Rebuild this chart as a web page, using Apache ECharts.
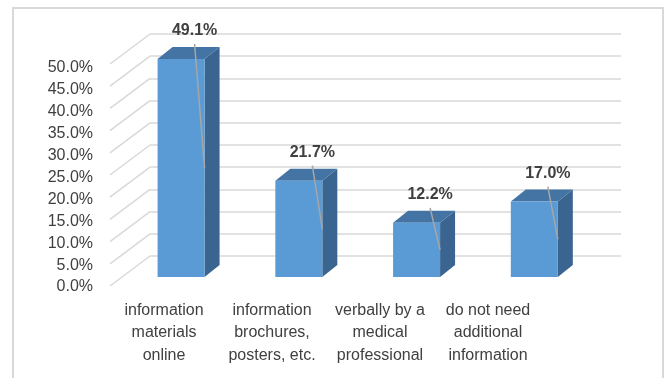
<!DOCTYPE html>
<html>
<head>
<meta charset="utf-8">
<script src="https://cdn.jsdelivr.net/npm/echarts@6/dist/echarts.min.js"></script>
<style>
  html, body { margin: 0; padding: 0; background: #ffffff; }
  #chart { width: 667px; height: 378px; }
</style>
</head>
<body>
<div id="chart"></div>
<script>
// Where respondents would like to get information (share of answers, %)
const categories = [
  'information\nmaterials\nonline',
  'information\nbrochures,\nposters, etc.',
  'verbally by a\nmedical\nprofessional',
  'do not need\nadditional\ninformation'
];
const shares = [49.1, 21.7, 12.2, 17.0];

// Value axis: 0 % to 50 % in steps of 5 %
const axisMin = 0;
const axisMax = 50;
const axisStep = 5;
const wallTicks = [0, 5, 10, 15, 20, 25, 30, 35, 40, 45, 50];

// Oblique 3D look: floor depth, bar placement and bar depth (px)
const FLOOR_DX = -40, FLOOR_DY = 30;   // back wall -> front edge
const FRONT_DX = -27.8, FRONT_DY = 21; // back wall -> bar front face
const BAR_W = 47;
const DEPTH_DX = 15, DEPTH_DY = -12;   // bar front face -> bar back face

const FONT = '"Liberation Sans", Arial, sans-serif';
const TEXT = '#404040';
const GRID_LINE = '#d9d9d9';

function pct(v) { return v.toFixed(1) + '%'; }

function renderBar(params, api) {
  const idx = api.value(0);
  const v = api.value(1);
  const top = api.coord([idx, v]);
  const base = api.coord([idx, 0]);
  const cx = top[0] + FRONT_DX;
  const yTop = top[1] + FRONT_DY;
  const yBot = base[1] + FRONT_DY;
  const x0 = cx - BAR_W / 2, x1 = cx + BAR_W / 2;
  const labelX = x1 - 10;
  const labelY = yTop - 28;
  return {
    type: 'group',
    children: [
      {
        type: 'polygon',
        shape: { points: [[x1, yTop], [x1 + DEPTH_DX, yTop + DEPTH_DY], [x1 + DEPTH_DX, yBot + DEPTH_DY], [x1, yBot]] },
        style: { fill: '#3a6591' }
      },
      {
        type: 'polygon',
        shape: { points: [[x0, yTop], [x1, yTop], [x1 + DEPTH_DX, yTop + DEPTH_DY], [x0 + DEPTH_DX, yTop + DEPTH_DY]] },
        style: { fill: '#4474a4' }
      },
      {
        type: 'rect',
        shape: { x: x0, y: yTop, width: BAR_W, height: yBot - yTop },
        style: { fill: '#5b9bd5' }
      },
      {
        type: 'line',
        shape: { x1: labelX, y1: labelY + 13, x2: x1, y2: (yTop + yBot) / 2 },
        style: { stroke: '#a6a6a6', lineWidth: 1.5 }
      },
      {
        type: 'text',
        x: labelX,
        y: labelY,
        style: {
          text: pct(v),
          fill: TEXT,
          font: 'bold 16px ' + FONT,
          align: 'center',
          verticalAlign: 'middle'
        }
      }
    ]
  };
}

function renderWallLine(params, api) {
  const y = api.coord([0, api.value(1)])[1];
  const x = params.coordSys.x;
  return {
    type: 'line',
    shape: { x1: x + FLOOR_DX, y1: y + FLOOR_DY, x2: x, y2: y },
    style: { stroke: GRID_LINE, lineWidth: 1.5 }
  };
}

const chart = echarts.init(document.getElementById('chart'), null, { renderer: 'canvas' });

chart.setOption({
  backgroundColor: '#ffffff',
  animation: false,
  graphic: [{
    type: 'rect',
    shape: { x: 13, y: 8, width: 650, height: 400 },
    style: { fill: 'none', stroke: GRID_LINE, lineWidth: 2 },
    silent: true
  }],
  grid: [
    // back wall
    { left: 150, right: 46, top: 34, bottom: 122 },
    // front edge (axis labels)
    { left: 110, right: 125, top: 68, bottom: 91 }
  ],
  xAxis: [
    { gridIndex: 0, type: 'category', data: categories, show: false },
    {
      gridIndex: 1, type: 'category', data: categories,
      axisLine: { show: false }, axisTick: { show: false },
      axisLabel: {
        interval: 0, margin: 12, color: TEXT,
        fontFamily: FONT, fontSize: 16, lineHeight: 22.7, align: 'center'
      }
    }
  ],
  yAxis: [
    {
      gridIndex: 0, type: 'value', min: axisMin, max: axisMax, interval: axisStep,
      axisLine: { show: false }, axisTick: { show: false }, axisLabel: { show: false },
      splitLine: { show: true, lineStyle: { color: GRID_LINE, width: 1.5 } }
    },
    {
      gridIndex: 1, type: 'value', min: axisMin, max: axisMax, interval: axisStep,
      axisLine: { show: false }, axisTick: { show: false },
      splitLine: { show: false },
      axisLabel: {
        margin: 17, color: TEXT, fontFamily: FONT, fontSize: 16,
        formatter: function (v) { return pct(v); }
      }
    }
  ],
  series: [
    {
      type: 'custom',
      xAxisIndex: 0, yAxisIndex: 0,
      renderItem: renderWallLine,
      data: wallTicks.map(function (t) { return [0, t]; }),
      silent: true,
      z: 1
    },
    {
      type: 'custom',
      xAxisIndex: 0, yAxisIndex: 0,
      renderItem: renderBar,
      data: shares.map(function (s, i) { return [i, s]; }),
      z: 3
    }
  ]
});
</script>
</body>
</html>
